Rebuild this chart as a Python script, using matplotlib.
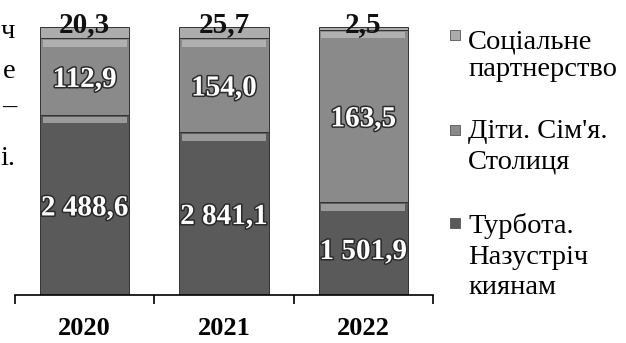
import numpy as np
import matplotlib.pyplot as plt
import matplotlib.patheffects as pe
from matplotlib.patches import Rectangle

years = ['2020', '2021', '2022']

# підписи на стовпчиках
turbota_values = [2488.6, 2841.1, 1501.9]
dity_values = [112.9, 154.0, 163.5]
partner_values = [20.3, 25.7, 2.5]

# частка висоти стовпчика (%), як на малюнку
turbota_share = [67.2, 60.8, 34.7]
dity_share = [28.7, 35.1, 64.3]
partner_share = [4.1, 4.1, 1.0]

legend_lines = [['Соціальне', 'партнерство'],
                ['Діти. Сім\'я.', 'Столиця'],
                ['Турбота.', 'Назустріч', 'киянам']]


def fmt(v):
    s = f'{v:,.1f}'.replace(',', ' ').replace('.', ',')
    return s


plt.rcParams['font.family'] = ['Liberation Serif', 'DejaVu Serif']

fig = plt.figure(figsize=(6.26, 3.43), dpi=100)
W, H = 626, 343
ax = fig.add_axes([15 / W, 48 / H, 418 / W, 268 / H])

x = np.arange(len(years))
width = 0.64
c_bottom, c_mid, c_top = '#5a5a5a', '#8a8a8a', '#acacac'

ax.bar(x, turbota_share, width, color=c_bottom, edgecolor='#333333', linewidth=0.7)
ax.bar(x, dity_share, width, bottom=turbota_share, color=c_mid,
       edgecolor='#333333', linewidth=0.7)
top_bottom = np.array(turbota_share) + np.array(dity_share)
ax.bar(x, partner_share, width, bottom=top_bottom, color=c_top,
       edgecolor='#333333', linewidth=0.7)

# світла смуга під верхнім краєм кожного сегмента (ефект об'єму)
for seg_top in [np.array(turbota_share), top_bottom]:
    ax.bar(x, 2.4, width * 0.94, bottom=seg_top - 3.2, color='#d0d0d0',
           alpha=0.55, linewidth=0)

white_fx = [pe.withStroke(linewidth=2.2, foreground='#2a2a2a')]
for i in range(len(years)):
    ax.text(x[i], turbota_share[i] / 2, fmt(turbota_values[i]), ha='center',
            va='center_baseline', color='white', fontsize=21, fontweight='bold',
            path_effects=white_fx)
    ax.text(x[i], turbota_share[i] + dity_share[i] / 2, fmt(dity_values[i]),
            ha='center', va='center_baseline', color='white', fontsize=21,
            fontweight='bold', path_effects=white_fx)
    ax.annotate(fmt(partner_values[i]), xy=(x[i], top_bottom[i] + partner_share[i]),
                xytext=(0, -3.5), textcoords='offset points', ha='center',
                va='baseline', color='#111111', fontsize=21, fontweight='bold')

ax.set_xlim(-0.5, 2.5)
ax.set_ylim(0, 100)
for s in ['top', 'left', 'right']:
    ax.spines[s].set_visible(False)
ax.spines['bottom'].set_linewidth(1.2)
ax.set_yticks([])
ax.set_xticks(x)
ax.set_xticklabels(years, fontsize=19, fontweight='bold')
ax.tick_params(axis='x', which='major', length=0, pad=16)
ax.set_xticks([-0.5, 0.5, 1.5, 2.5], minor=True)
ax.tick_params(axis='x', which='minor', length=6.5, width=1.2, direction='out')

# легенда
marker_colors = [c_top, c_mid, c_bottom]
marker_y = [30, 125, 218]
baselines = [[48, 76], [138, 168], [233, 264, 294]]
for k in range(3):
    fig.patches.append(Rectangle((450 / W, 1 - (marker_y[k] + 10) / H), 10 / W, 10 / H,
                                 transform=fig.transFigure, facecolor=marker_colors[k],
                                 edgecolor='#555555', linewidth=0.6))
    for line, yb in zip(legend_lines[k], baselines[k]):
        fig.text(468 / W, 1 - yb / H, line, fontsize=20.5, va='baseline', ha='left')

# обрізаний текст сусідньої колонки
fig.text(15 / W, 1 - 38 / H, 'ч', fontsize=20.5, va='baseline', ha='right')
fig.text(15 / W, 1 - 78 / H, 'е', fontsize=20.5, va='baseline', ha='right')
fig.text(16 / W, 1 - 107 / H, '–', fontsize=20.5, va='center', ha='right')
fig.text(15 / W, 1 - 165 / H, 'і.', fontsize=20.5, va='baseline', ha='right')

fig.savefig('out.png', dpi=100)
